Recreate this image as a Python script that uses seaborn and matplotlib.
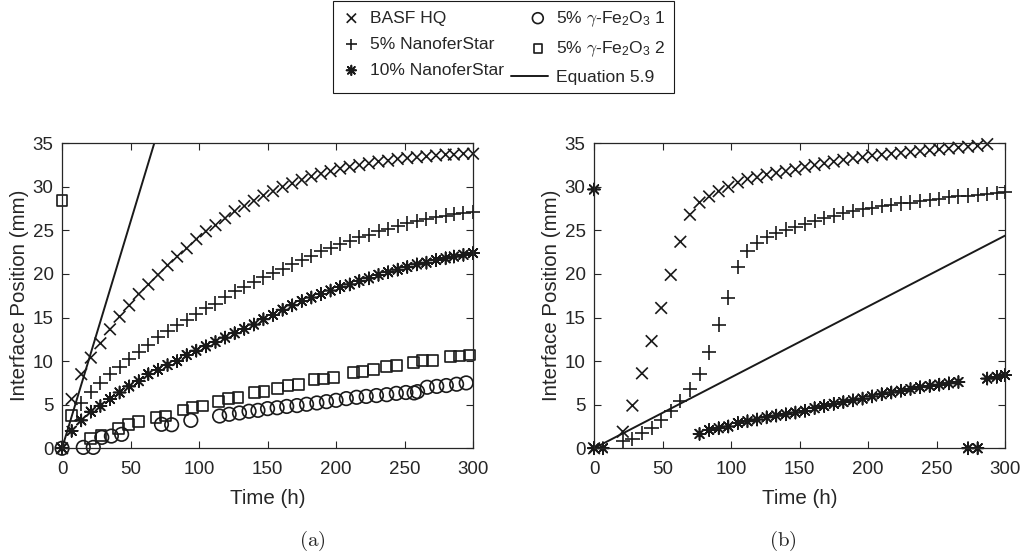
import matplotlib
matplotlib.use("Agg")
import matplotlib.pyplot as plt
from matplotlib.legend_handler import HandlerLine2D
from matplotlib.lines import Line2D
import numpy as np
import pandas as pd
import seaborn as sns

# ---------------- data ----------------
# Panel (a)
t_a = [0, 7, 14, 21, 28, 35, 42, 49, 56, 63, 70, 77, 84, 91, 98, 105, 112, 119, 126, 133,
       140, 147, 154, 161, 168, 175, 182, 189, 196, 203, 210, 217, 224, 231, 238, 245, 252,
       259, 266, 273, 280, 286, 293, 300]
basf_a = [0, 5.65, 8.5, 10.4, 12.05, 13.65, 15.1, 16.4, 17.7, 18.8, 19.9, 21.0, 22.0, 22.95,
          24.0, 24.9, 25.6, 26.4, 27.2, 27.8, 28.4, 29.0, 29.5, 30.0, 30.4, 30.8, 31.2, 31.5,
          31.8, 32.1, 32.3, 32.5, 32.7, 32.9, 33.0, 33.2, 33.3, 33.4, 33.5, 33.6, 33.7, 33.7,
          33.8, 33.8]
nano5_a = [0, np.nan, 5.15, 6.5, 7.45, 8.5, 9.3, 10.2, 11.1, 11.85, 12.8, 13.5, 14.15, 14.7,
           15.4, 16.1, 16.6, 17.4, 18.0, 18.55, 19.1, 19.6, 20.1, 20.6, 21.1, 21.6, 22.1, 22.6,
           23.0, 23.4, 23.8, 24.2, 24.5, 24.9, 25.2, 25.5, 25.8, 26.1, 26.3, 26.5, 26.7, 26.9,
           27.0, 27.1]
nano10_a = [0, 2.0, 3.2, 4.2, 4.85, 5.65, 6.4, 7.1, 7.7, 8.5, 9.0, 9.55, 10.0, 10.7, 11.2,
            11.7, 12.2, 12.7, 13.2, 13.7, 14.2, 14.8, 15.3, 15.9, 16.4, 16.9, 17.3, 17.7, 18.1,
            18.5, 18.8, 19.2, 19.5, 19.9, 20.2, 20.5, 20.8, 21.1, 21.3, 21.6, 21.8, 22.0, 22.2,
            22.4]
t_fe1_a = [0, 15.5, 22.8, 29, 36, 43.5, 72.6, 80, 94, 115, 122, 129.5, 136.5, 143, 150, 157,
           164, 171.5, 178.5, 186, 193, 200, 207.5, 215, 222, 229.5, 237, 244, 251, 257,
           259.5, 266.5, 273.5, 280.5, 288, 295]
fe1_a = [0, 0.1, 0.1, 1.25, 1.4, 1.6, 2.75, 2.7, 3.2, 3.7, 3.9, 4.05, 4.25, 4.35, 4.55, 4.65,
         4.8, 4.9, 5.05, 5.2, 5.35, 5.5, 5.7, 5.85, 5.95, 6.05, 6.15, 6.3, 6.4, 6.35, 6.5, 7.0,
         7.1, 7.2, 7.35, 7.5]
t_fe2_a = [0, 7, 20.7, 28.4, 41, 48.3, 55.6, 68.5, 75.5, 88.3, 95.5, 102.5, 114.2, 121.5,
           128.4, 140.4, 147.4, 157.2, 165, 172.5, 184, 191.1, 198.4, 212.6, 219.4, 227.2,
           236.9, 244.2, 256.3, 262.9, 270.2, 283.5, 290.3, 297.6]
fe2_a = [28.4, 3.8, 1.15, 1.5, 2.3, 2.7, 3.1, 3.55, 3.7, 4.4, 4.65, 4.85, 5.4, 5.7, 5.85, 6.4,
         6.5, 6.9, 7.2, 7.3, 7.85, 7.95, 8.1, 8.7, 8.8, 9.0, 9.4, 9.5, 9.8, 10.1, 10.1, 10.5,
         10.6, 10.7]
t_eq_a = [0, 70]
eq_a = [0, 36.4]

# Panel (b)
t_basf_b = [0, 21, 28, 35, 42, 49, 56, 63, 70, 77, 84, 91, 98, 105, 112, 119, 126, 133, 140,
            147, 154, 161, 168, 175, 182, 189, 196, 203, 210, 217, 224, 231, 238, 245, 252,
            259, 266, 273, 280, 287]
basf_b = [0, 1.9, 4.9, 8.6, 12.3, 16.1, 19.9, 23.7, 26.8, 28.2, 28.9, 29.5, 30.0, 30.5, 30.9,
          31.1, 31.4, 31.6, 31.8, 32.0, 32.3, 32.5, 32.7, 32.9, 33.1, 33.3, 33.4, 33.6, 33.7,
          33.8, 33.9, 34.0, 34.1, 34.2, 34.3, 34.4, 34.5, 34.6, 34.7, 34.9]
t_nano5_b = [0, 21, 28, 35, 42, 49, 56, 63, 70, 77, 84, 91, 98, 105, 112, 119, 126, 133, 140,
             147, 154, 161, 168, 175, 182, 189, 196, 203, 210, 217, 224, 231, 238, 245, 252,
             259, 266, 273, 280, 287, 294, 300]
nano5_b = [0, 0.8, 1.05, 1.75, 2.3, 3.2, 4.3, 5.45, 6.75, 8.5, 11.0, 14.2, 17.3, 20.8, 22.6,
           23.6, 24.2, 24.7, 25.1, 25.4, 25.7, 26.1, 26.4, 26.7, 27.0, 27.2, 27.4, 27.6, 27.8,
           27.9, 28.1, 28.2, 28.4, 28.5, 28.6, 28.8, 28.9, 29.0, 29.1, 29.2, 29.3, 29.4]
t_nano10_b = [0, 0, 6.5, 77, 84, 91, 98, 105, 112, 119, 126, 133, 140, 147, 154, 161, 168,
              175, 182, 189, 196, 203, 210, 217, 224, 231, 238, 245, 252, 259, 266, 273, 280,
              287, 294, 300]
nano10_b = [29.7, 0, 0, 1.65, 2.1, 2.3, 2.5, 2.9, 3.1, 3.3, 3.55, 3.75, 3.9, 4.1, 4.3, 4.6,
            4.85, 5.1, 5.3, 5.5, 5.7, 5.95, 6.2, 6.4, 6.6, 6.8, 7.0, 7.15, 7.3, 7.45, 7.6, 0,
            0, 8.0, 8.2, 8.4]
t_eq_b = [0, 300]
eq_b = [0, 24.4]

labels = ["BASF HQ", "5% NanoferStar", "10% NanoferStar",
          r"5% $\gamma$-Fe$\mathregular{_2}$O$\mathregular{_3}$ 1",
          r"5% $\gamma$-Fe$\mathregular{_2}$O$\mathregular{_3}$ 2",
          "Equation 5.9"]
x_ticks = [0, 50, 100, 150, 200, 250, 300]
y_ticks = [0, 5, 10, 15, 20, 25, 30, 35]
x_label = "Time (h)"
y_label = "Interface Position (mm)"
captions = ["(a)", "(b)"]

# ---------------- style ----------------
sns.set_theme(style="white")
plt.rcParams["font.family"] = ["Liberation Sans", "DejaVu Sans"]
plt.rcParams["mathtext.fontset"] = "cm"
plt.rcParams.update({
    "xtick.direction": "in", "ytick.direction": "in",
    "xtick.top": True, "ytick.right": True,
    "xtick.bottom": True, "ytick.left": True,
    "xtick.major.size": 5, "ytick.major.size": 5,
    "xtick.major.width": 0.8, "ytick.major.width": 0.8,
    "xtick.color": "#262626", "ytick.color": "#262626",
    "axes.edgecolor": "#262626", "axes.linewidth": 0.9,
})

fig = plt.figure(figsize=(10.29, 5.57), dpi=100)
axes = [fig.add_axes([0.0603, 0.1952, 0.3994, 0.5476]),
        fig.add_axes([0.5773, 0.1952, 0.3994, 0.5476])]

ASTER = (8, 2, 0)
mk = {"x": dict(marker="x", s=70), "+": dict(marker="+", s=105),
      "*": dict(marker=ASTER, s=75), "o": dict(marker="o", s=95),
      "s": dict(marker="s", s=60)}


def scat(ax, x, y, key, label):
    sns.scatterplot(x=x, y=y, ax=ax, color="k", label=label, legend=False, **mk[key])
    c = ax.collections[-1]
    c.set_facecolor("none")
    c.set_edgecolor("k")
    c.set_linewidth(1.2)
    c.set_clip_on(False)
    c.set_label(label)


axA, axB = axes
scat(axA, t_a, basf_a, "x", labels[0])
scat(axA, t_a, nano5_a, "+", labels[1])
scat(axA, t_a, nano10_a, "*", labels[2])
scat(axA, t_fe1_a, fe1_a, "o", labels[3])
scat(axA, t_fe2_a, fe2_a, "s", labels[4])
sns.lineplot(x=t_eq_a, y=eq_a, ax=axA, color="k", linewidth=1.4, label=labels[5], legend=False)

scat(axB, t_basf_b, basf_b, "x", labels[0])
scat(axB, t_nano5_b, nano5_b, "+", labels[1])
scat(axB, t_nano10_b, nano10_b, "*", labels[2])
sns.lineplot(x=t_eq_b, y=eq_b, ax=axB, color="k", linewidth=1.4, label=labels[5], legend=False)

for ax, cap in zip(axes, captions):
    ax.set_xlim(0, 300)
    ax.set_ylim(0, 35)
    ax.set_xticks(x_ticks)
    ax.set_yticks(y_ticks)
    ax.tick_params(labelsize=13.5)
    ax.tick_params(axis="x", pad=9)
    ax.tick_params(axis="y", pad=6)
    ax.set_xlabel(x_label, fontsize=14.8, labelpad=8)
    ax.set_ylabel(y_label, fontsize=14.8, labelpad=3)
    for s in ax.spines.values():
        s.set_visible(True)
    if ax.get_legend() is not None:
        ax.get_legend().remove()

fig.text(312 / 1029, 1 - 541 / 557, r"$\mathrm{(a)}$", ha="center", va="center", fontsize=15)
fig.text(783 / 1029, 1 - 541 / 557, r"$\mathrm{(b)}$", ha="center", va="center", fontsize=15)


class LongLine(HandlerLine2D):
    """Line legend entry that extends further to the left, as in the reference."""
    def create_artists(self, legend, orig_handle, xdescent, ydescent, width, height,
                       fontsize, trans):
        ext = 12
        return super().create_artists(legend, orig_handle, xdescent + ext, ydescent,
                                      width + ext, height, fontsize, trans)


h, l = axA.get_legend_handles_labels()
order = [l.index(name) for name in labels]
hs = [h[i] for i in order]
leg = fig.legend(hs, [l[i] for i in order], ncol=2,
                 loc="upper left", bbox_to_anchor=(333 / 1029, 0.998), fontsize=12.6,
                 frameon=True, fancybox=False, edgecolor="k", framealpha=1,
                 handlelength=1.2, handletextpad=0.45, columnspacing=1.34,
                 labelspacing=0.62, borderpad=0.45, borderaxespad=0.0,
                 markerscale=0.8, handler_map={Line2D: LongLine()})
leg.get_frame().set_linewidth(0.8)

fig.savefig("out.png", dpi=100)
